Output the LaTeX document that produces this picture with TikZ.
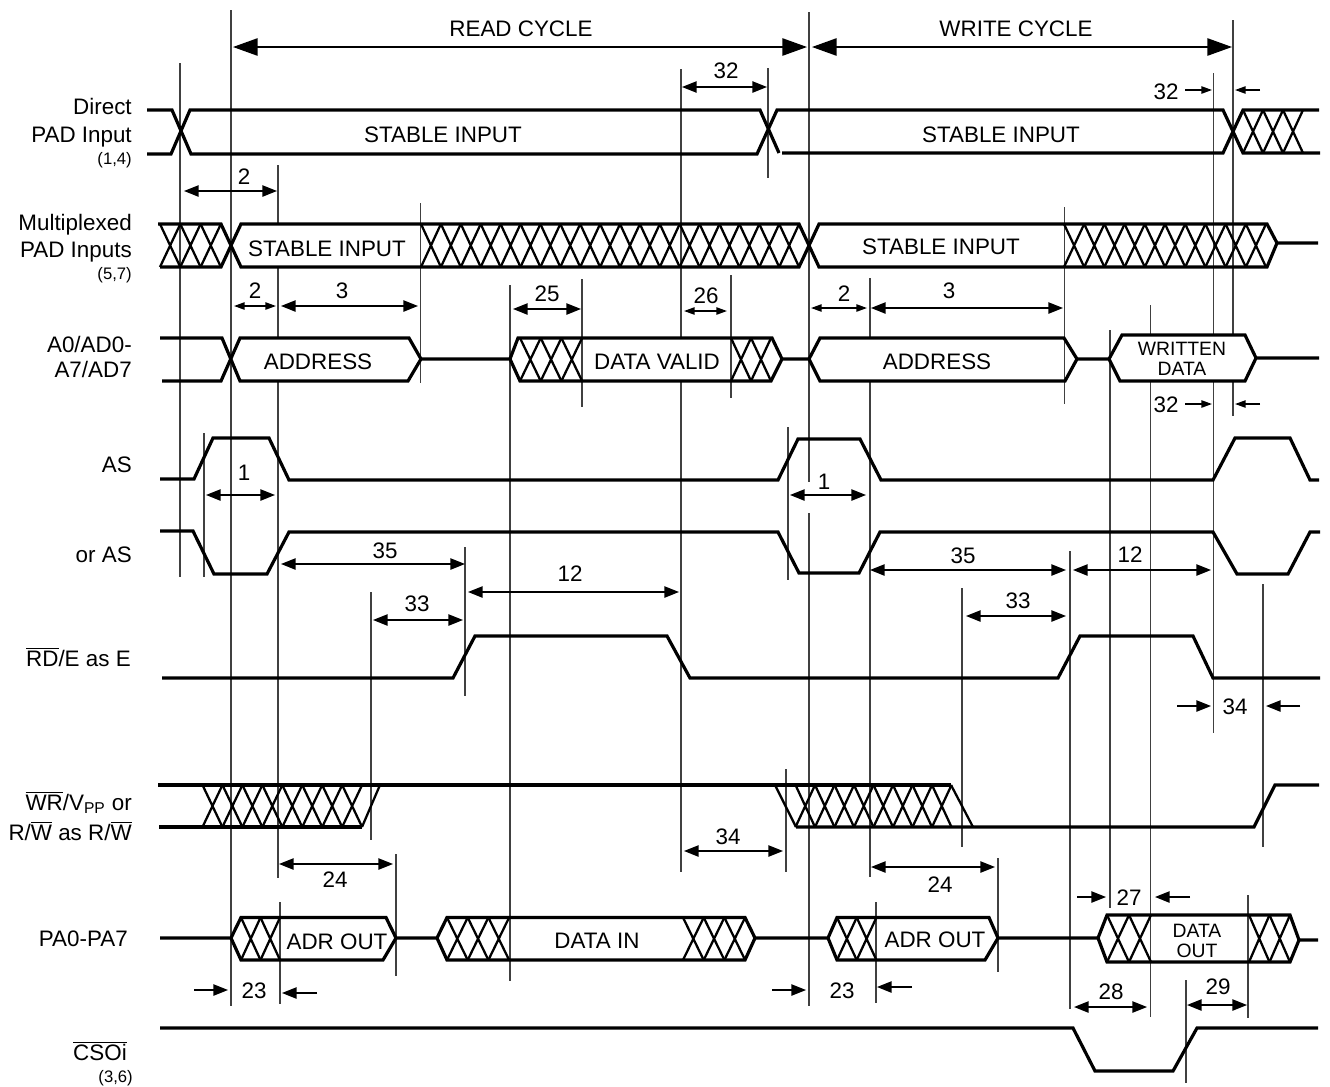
\documentclass[tikz,border=0pt]{standalone}
\usepackage{fontspec}
\setmainfont{Liberation Sans}
\usetikzlibrary{arrows.meta}
\newcommand{\xhatch}[5]{%
  \foreach \k [evaluate=\k as \xa using #1+(\k-1)*#2, evaluate=\k as \xb using #1+\k*#2] in {1,...,#3}
    \draw[hatchl] (\xa,#4)--(\xb,#5) (\xa,#5)--(\xb,#4);}
\begin{document}
\begin{tikzpicture}[
  x=0.75pt,y=-0.75pt,
  every node/.style={font=\fontsize{16.8}{19.5}\selectfont,inner sep=0pt,align=center,anchor=base,yshift=-6pt},
  sig/.style={anchor=base east,align=right},
  tiny/.style={font=\fontsize{12.5}{14}\selectfont,yshift=2pt},
  small/.style={font=\fontsize{14.5}{15}\selectfont,anchor=center,yshift=6pt},
  wave/.style={line width=2.4pt,line join=miter},
  hatchl/.style={line width=1.7pt},
  guide/.style={line width=0.95pt,draw=black!75},
  bigarr/.style={line width=1.2pt,{Triangle[length=18.5pt,width=13pt]}-{Triangle[length=18.5pt,width=13pt]}},
  dimarr/.style={line width=1.1pt,{Triangle[length=11pt,width=8.5pt]}-{Triangle[length=11pt,width=8.5pt]}},
  dimsm/.style={line width=1.1pt,{Triangle[length=8pt,width=5.5pt]}-{Triangle[length=8pt,width=5.5pt]}},
  oneway/.style={line width=1.1pt,-{Triangle[length=11pt,width=8.5pt]}},
  oneshort/.style={line width=1.1pt,-{Triangle[length=8pt,width=5.5pt]}},
  blank/.style={fill=white}
]
  \useasboundingbox (0,0) rectangle (1330,1086);
  % guides
  \foreach \gx/\gya/\gyb in {180/63/577,204/433/577,231/10/1006,278/165/878,280/902/1004,371/592/840,
      396/854/976,420.5/203/383,465/547/696,510/285/981,582/279/407,681/69/872,731/275/398,768/68/178,
      786/769/872,788/427/580,809/12/482,809/513/1006,870/278/877,876/902/1003,962/588/847,998/858/972,
      1064.5/207/404,1070/551/1009,1110/330/908,1150.5/305/1017,1186/980/1083,1213.5/73/733,1233/20/416,
      1248/895/1018,1263/584/847}
    \draw[guide] (\gx,\gya)--(\gx,\gyb);
  % blanks
  \path[blank] (241,224) rectangle (420,267);
  \path[blank] (241,338) rectangle (409,381);
  \path[blank] (583,338) rectangle (730,381);
  \path[blank] (821,338) rectangle (1063,381);
  \path[blank] (1122,335) rectangle (1245,381);
  % Direct PAD
  \draw[wave] (147,110)--(172,110)--(191,154)--(757,154)--(777,110)--(1223,110)--(1243,153)--(1320,153);
  \draw[wave] (147,154)--(171,154)--(190,110)--(760,110)--(779,153);
  \draw[wave] (782,153)--(1223,153)--(1243,110)--(1319,110);
  \xhatch{1243}{20}{3}{110}{153}
  % Multiplexed
  \draw[wave] (158,224)--(221,224)--(241,267)--(799,267)--(819,224)--(1267,224)--(1277,243)--(1318,243);
  \draw[wave] (160,267)--(221,267)--(241,224)--(799,224)--(819,267)--(1267,267)--(1277,243);
  \xhatch{160}{20.3}{3}{224}{267}
  \xhatch{421}{19.9}{19}{224}{267}
  \xhatch{1064}{20.2}{10}{224}{267}
  % A0/AD0
  \draw[wave] (160,338)--(222,338)--(240,381)--(408,381)--(421,359)--(510,359)--(520,381)--(771,381)--(782,359)--(809,359)--(820,381)--(1065,381)--(1077,359)--(1109,359)--(1120,381)--(1245,381)--(1256,358)--(1319,358);
  \draw[wave] (162,381)--(221,381)--(240,338)--(409,338)--(421,359);
  \draw[wave] (510,359)--(518,338)--(772,338)--(782,359);
  \draw[wave] (809,359)--(820,338)--(1064,338)--(1077,359);
  \draw[wave] (1109,359)--(1122,335)--(1245,335)--(1256,358);
  \xhatch{520}{20.7}{3}{338}{381}
  \xhatch{731}{20}{2}{338}{381}
  % AS
  \draw[wave] (160,479)--(194,479)--(213,438)--(269,438)--(289,480)--(778,480)--(798,439)--(860,439)--(881,480)--(1213,480)--(1235,438)--(1290,438)--(1310,480)--(1319,480);
  \draw[wave] (160,531)--(193,531)--(214,574)--(267,574)--(289,532)--(778,532)--(799,573)--(859,573)--(880,532)--(1213,532)--(1237,574)--(1288,574)--(1310,532)--(1320,532);
  % RD/E
  \draw[wave] (162,678)--(453,678)--(475,636)--(667,636)--(690,678)--(1058,678)--(1080,636)--(1193,636)--(1213,678)--(1320,678);
  % WR
  \draw[wave] (158,785)--(951,785);
  \draw[wave] (159,827)--(362,827);
  \draw[wave] (796,827)--(1254,827)--(1275,785)--(1319,785);
  \draw[hatchl] (362,827)--(380,785);
  \draw[hatchl] (775,785)--(796,827);
  \draw[hatchl] (951,785)--(973,827);
  \xhatch{202.5}{19.95}{8}{785}{827}
  \xhatch{795.5}{19.5}{8}{785}{827}
  % PA0-PA7
  \draw[wave] (160,938)--(231,938)--(241,917.5)--(386,917.5)--(396,938)--(437,938)--(447,917.5)--(745,917.5)--(755,938)--(828,938)--(837,917.5)--(989,917.5)--(998,938)--(1098,938)--(1107,915)--(1290,915)--(1299,940)--(1318,940);
  \draw[wave] (231,938)--(241,960)--(383,960)--(396,938);
  \draw[wave] (437,938)--(447,960)--(745,960)--(755,938);
  \draw[wave] (828,938)--(837,960)--(985,960)--(998,938);
  \draw[wave] (1098,938)--(1107,962)--(1290,962)--(1299,940);
  \xhatch{241}{19.5}{2}{917.5}{960}
  \xhatch{447}{20.7}{3}{917.5}{960}
  \xhatch{683}{20.7}{3}{917.5}{960}
  \xhatch{837}{19.7}{2}{917.5}{960}
  \xhatch{1107}{22}{2}{915}{962}
  \xhatch{1249}{20.5}{2}{915}{962}
  % CSOi
  \draw[wave] (160,1028)--(1073,1028)--(1095,1071)--(1173,1071)--(1197,1028)--(1318,1028);
  % signal names
  \node[sig] (direct) at (132,106) {Direct};
  \node[sig] (padin) at (132,134) {PAD Input};
  \node[sig,tiny] (n14) at (132,159) {(1,4)};
  \node[sig] (multi) at (132,222) {Multiplexed};
  \node[sig] (padins) at (132,249) {PAD Inputs};
  \node[sig,tiny] (n57) at (132,274) {(5,7)};
  \node[sig] (ad0) at (132,344) {A0/AD0-};
  \node[sig] (ad7) at (132,369) {A7/AD7};
  \node[sig] (as) at (132,464) {AS};
  \node[sig] (oras) at (132,554) {or AS};
  \node[sig] (rde) at (131,658) {$\overline{\mbox{RD}}$/E as E};
  \node[sig] (wrv) at (132,802) {$\overline{\mbox{WR}}$/V\textsubscript{PP} or};
  \node[sig] (rw) at (132,832) {R/$\overline{\mbox{W}}$ as R/$\overline{\mbox{W}}$};
  \node[sig] (pa) at (128,938) {PA0-PA7};
  \node[sig] (cso) at (127,1052) {$\overline{\mbox{CSOi}}$};
  \node[sig,tiny] (n36) at (133,1077) {(3,6)};
  % data labels
  \node (readc) at (521,28) {READ CYCLE};
  \node (writec) at (1016,28) {WRITE CYCLE};
  \node (sia) at (443,134) {STABLE INPUT};
  \node (sib) at (1001,134) {STABLE INPUT};
  \node (sic) at (327,248) {STABLE INPUT};
  \node (sid) at (941,246) {STABLE INPUT};
  \node (adra) at (318,361) {ADDRESS};
  \node (adrb) at (937,361) {ADDRESS};
  \node (dval) at (657,361) {DATA VALID};
  \node[small] (wdata) at (1182,359) {WRITTEN\\DATA};
  \node (aouta) at (337,941) {ADR OUT};
  \node (aoutb) at (935,939) {ADR OUT};
  \node (din) at (597,940) {DATA IN};
  \node[small] (dout) at (1197,941) {DATA\\OUT};
  % cycles
  \draw[bigarr] (233,47)--(807,47);
  \draw[bigarr] (812,47)--(1232,47);
  % timings
  \draw[dimarr] (682,87)--(767,87); \node (t32a) at (726,70) {32};
  \draw[dimarr] (184,191)--(277,191); \node (t2a) at (244,176) {2};
  \draw[dimsm] (234,306)--(276,306); \node (t2b) at (255,290) {2};
  \draw[dimarr] (281,306)--(418,306); \node (t3a) at (342,290) {3};
  \draw[dimarr] (513,309)--(581,309); \node (t25) at (547,293) {25};
  \draw[dimsm] (684,311)--(727,311); \node (t26) at (706,295) {26};
  \draw[dimsm] (811,308)--(867,308); \node (t2c) at (844,293) {2};
  \draw[dimarr] (871,308)--(1063,308); \node (t3b) at (949,290) {3};
  \draw[dimarr] (206,495)--(275,495); \node (t1a) at (244,472) {1};
  \draw[dimarr] (790,495)--(866,495); \node (t1b) at (824,481) {1};
  \draw[dimarr] (281,564)--(465,564); \node (t35a) at (385,550) {35};
  \draw[dimarr] (870,570)--(1066,570); \node (t35b) at (963,555) {35};
  \draw[dimarr] (373,620)--(463,620); \node (t33a) at (417,603) {33};
  \draw[dimarr] (966,616)--(1066,616); \node (t33b) at (1018,600) {33};
  \draw[dimarr] (468,592)--(679,592); \node (t12a) at (570,573) {12};
  \draw[dimarr] (1073,570)--(1211,570); \node (t12b) at (1130,554) {12};
  \draw[dimarr] (684,851)--(783,851); \node (t34a) at (728,836) {34};
  \draw[dimarr] (279,864)--(393,864); \node (t24a) at (335,879) {24};
  \draw[dimarr] (871,867)--(995,867); \node (t24b) at (940,884) {24};
  \draw[dimarr] (1074,1007)--(1147,1007); \node (t28) at (1111,991) {28};
  \draw[dimarr] (1187,1005)--(1247,1005); \node (t29) at (1218,986) {29};
  % outside arrows
  \node (t32b) at (1166,91) {32};
  \draw[oneshort] (1185,90)--(1212,90); \draw[oneshort] (1260,90)--(1235,90);
  \node (t32c) at (1166,404) {32};
  \draw[oneshort] (1185,404)--(1212,404); \draw[oneshort] (1260,404)--(1235,404);
  \node (t34b) at (1235,706) {34};
  \draw[oneway] (1177,706)--(1211,706); \draw[oneway] (1300,706)--(1266,706);
  \node (t23a) at (254,990) {23};
  \draw[oneway] (194,990)--(228,990); \draw[oneway] (317,993)--(282,993);
  \node (t23b) at (842,990) {23};
  \draw[oneway] (772,990)--(806,990); \draw[oneway] (912,987)--(877,987);
  \node (t27) at (1129,897) {27};
  \draw[oneway] (1077,897)--(1106,897); \draw[oneway] (1190,897)--(1155,897);
\end{tikzpicture}
\end{document}
